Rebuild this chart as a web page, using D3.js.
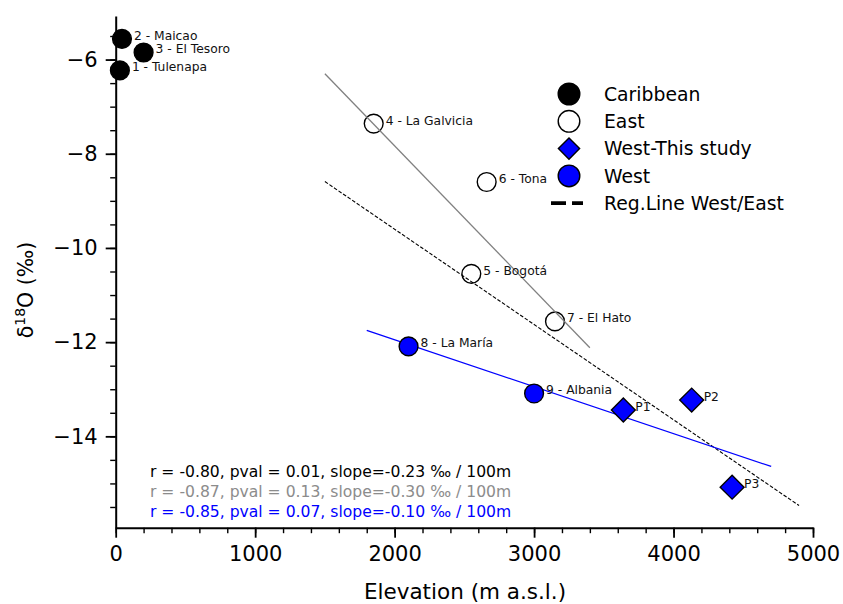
<!DOCTYPE html>
<html>
<head>
<meta charset="utf-8">
<script src="https://cdn.jsdelivr.net/npm/d3@7"></script>
<style>
  body { margin: 0; background: #fff; }
  svg { font-family: 'DejaVu Sans', sans-serif; }
</style>
</head>
<body>
<svg width="843" height="604"></svg>
<script>
// station data: elevation (m) and d18O (permil)
var caribbeanNames = ['1 - Tulenapa', '2 - Maicao', '3 - El Tesoro'];
var caribbeanElev = [30, 45, 200];
var caribbeanD18O = [-6.23, -5.56, -5.85];

var eastNames = ['4 - La Galvicia', '5 - Bogotá', '6 - Tona', '7 - El Hato'];
var eastElev = [1850, 2550, 2660, 3150];
var eastD18O = [-7.36, -10.55, -8.60, -11.56];

var westNames = ['8 - La María', '9 - Albania'];
var westElev = [2100, 3000];
var westD18O = [-12.09, -13.09];

var studyNames = ['P1', 'P2', 'P3'];
var studyElev = [3640, 4130, 4420];
var studyD18O = [-13.44, -13.23, -15.08];

// regression line end points [x0, x1], [y0, y1]
var eastLineElev = [1500, 3400];
var eastLineD18O = [-6.30, -12.12];
var allLineElev = [1500, 4900];
var allLineD18O = [-8.59, -15.47];
var westLineElev = [1800, 4700];
var westLineD18O = [-11.75, -14.64];

var xTicks = [0, 1000, 2000, 3000, 4000, 5000];
var yTicks = [-14, -12, -10, -8, -6];

var statLines = [
    'r = -0.80, pval = 0.01, slope=-0.23 ‰ / 100m',
    'r = -0.87, pval = 0.13, slope=-0.30 ‰ / 100m',
    'r = -0.85, pval = 0.07, slope=-0.10 ‰ / 100m'
];
var statColors = ['#000000', '#8c8c8c', '#0000ff'];

var legendLabels = ['Caribbean', 'East', 'West-This study', 'West', 'Reg.Line West/East'];

var svg = d3.select('svg');

var xScale = d3.scaleLinear().domain([0, 5000]).range([115.7, 813]);
var yScale = d3.scaleLinear().domain([-15.94, -5.075]).range([527.7, 16]);

function zipPoints(names, xs, ys) {
    return names.map((n, i) => ({name: n, x: xs[i], y: ys[i]}));
}

// axes
var minorX = d3.range(0, 5001, 200);
var minorY = d3.range(-15.5, -5.2, 0.5);

var xAxisG = svg.append('g').attr('transform', 'translate(0,527.7)');
xAxisG.append('g')
    .call(d3.axisBottom(xScale).tickValues(minorX).tickSize(5.5).tickSizeOuter(0).tickFormat(''))
    .call(g => g.select('.domain').remove())
    .selectAll('line').attr('stroke-width', 1.4);
xAxisG.append('g')
    .call(d3.axisBottom(xScale).tickValues(xTicks).tickSize(10).tickSizeOuter(0).tickFormat(d3.format('d')))
    .call(g => g.select('.domain').attr('stroke-width', 2))
    .call(g => g.selectAll('line').attr('stroke-width', 1.8))
    .call(g => g.selectAll('text').attr('font-size', 21).attr('font-family', 'DejaVu Sans').attr('dy', '0.98em').attr('fill', '#000'));

var yAxisG = svg.append('g').attr('transform', 'translate(115.7,0)');
yAxisG.append('g')
    .call(d3.axisLeft(yScale).tickValues(minorY).tickSize(5.5).tickSizeOuter(0).tickFormat(''))
    .call(g => g.select('.domain').remove())
    .selectAll('line').attr('stroke-width', 1.4);
yAxisG.append('g')
    .call(d3.axisLeft(yScale).tickValues(yTicks).tickSize(10).tickSizeOuter(0))
    .call(g => g.select('.domain').attr('stroke-width', 2))
    .call(g => g.selectAll('line').attr('stroke-width', 1.8))
    .call(g => g.selectAll('text').attr('font-size', 21).attr('font-family', 'DejaVu Sans').attr('x', -18).attr('fill', '#000'));

// axis titles
svg.append('text')
    .attr('x', 465).attr('y', 599)
    .attr('text-anchor', 'middle')
    .attr('font-size', 21.5)
    .text('Elevation (m a.s.l.)');

var yLabel = svg.append('text')
    .attr('transform', 'translate(33,290) rotate(-90)')
    .attr('text-anchor', 'middle')
    .attr('font-size', 20.5);
yLabel.append('tspan').text('δ');
yLabel.append('tspan').attr('font-size', 14).attr('dy', -8).text('18');
yLabel.append('tspan').attr('dy', 8).text('O (‰)');

var plotG = svg.append('g');

// East points first so the gray/dashed lines show through them
var eastData = zipPoints(eastNames, eastElev, eastD18O);
plotG.selectAll('.east')
    .data(eastData)
    .enter().append('circle')
    .attr('class', 'east')
    .attr('cx', d => xScale(d.x))
    .attr('cy', d => yScale(d.y))
    .attr('r', 9.4)
    .attr('fill', '#fff')
    .attr('stroke', '#000')
    .attr('stroke-width', 1.4);

function drawLine(xs, ys, color, width, dash) {
    plotG.append('line')
        .attr('x1', xScale(xs[0])).attr('y1', yScale(ys[0]))
        .attr('x2', xScale(xs[1])).attr('y2', yScale(ys[1]))
        .attr('stroke', color)
        .attr('stroke-width', width)
        .attr('stroke-dasharray', dash);
}
drawLine(eastLineElev, eastLineD18O, '#808080', 1.3, null);
drawLine(allLineElev, allLineD18O, '#000', 1.1, '3.7,1.8');
drawLine(westLineElev, westLineD18O, '#0000ff', 1.3, null);

var westData = zipPoints(westNames, westElev, westD18O);
plotG.selectAll('.west')
    .data(westData)
    .enter().append('circle')
    .attr('class', 'west')
    .attr('cx', d => xScale(d.x))
    .attr('cy', d => yScale(d.y))
    .attr('r', 9.4)
    .attr('fill', '#0000ff')
    .attr('stroke', '#000')
    .attr('stroke-width', 1.4);

var diamond = d3.symbol().type(d3.symbolSquare).size(285);
var studyData = zipPoints(studyNames, studyElev, studyD18O);
plotG.selectAll('.study')
    .data(studyData)
    .enter().append('path')
    .attr('class', 'study')
    .attr('d', diamond)
    .attr('transform', d => `translate(${xScale(d.x)},${yScale(d.y)}) rotate(45)`)
    .attr('fill', '#0000ff')
    .attr('stroke', '#000')
    .attr('stroke-width', 1.4);

var caribData = zipPoints(caribbeanNames, caribbeanElev, caribbeanD18O);
plotG.selectAll('.carib')
    .data(caribData)
    .enter().append('circle')
    .attr('class', 'carib')
    .attr('cx', d => xScale(d.x))
    .attr('cy', d => yScale(d.y))
    .attr('r', 9.4)
    .attr('fill', '#000')
    .attr('stroke', '#000')
    .attr('stroke-width', 1.4);

// point labels
var allPoints = caribData.concat(eastData, westData, studyData);
plotG.selectAll('.plabel')
    .data(allPoints)
    .enter().append('text')
    .attr('class', 'plabel')
    .attr('x', d => xScale(d.x) + 12)
    .attr('y', d => yScale(d.y) + 1)
    .attr('font-size', 12.3)
    .attr('fill', '#111')
    .text(d => d.name);

// stats text
svg.selectAll('.stat')
    .data(statLines)
    .enter().append('text')
    .attr('class', 'stat')
    .attr('x', 150)
    .attr('y', (d, i) => 476.5 + i * 20)
    .attr('font-size', 15.6)
    .attr('fill', (d, i) => statColors[i])
    .text(d => d);

// legend
var legendG = svg.append('g').attr('transform', 'translate(569,94)');
var rowGap = 27.3;
legendG.append('circle').attr('cy', 0).attr('r', 10.8)
    .attr('fill', '#000').attr('stroke', '#000').attr('stroke-width', 1.4);
legendG.append('circle').attr('cy', rowGap).attr('r', 10.8)
    .attr('fill', '#fff').attr('stroke', '#000').attr('stroke-width', 1.4);
legendG.append('path').attr('d', d3.symbol().type(d3.symbolSquare).size(225))
    .attr('transform', `translate(0,${rowGap * 2}) rotate(45)`)
    .attr('fill', '#0000ff').attr('stroke', '#000').attr('stroke-width', 1.4);
legendG.append('circle').attr('cy', rowGap * 3).attr('r', 10.8)
    .attr('fill', '#0000ff').attr('stroke', '#000').attr('stroke-width', 1.4);
legendG.append('line')
    .attr('x1', -18).attr('x2', 14)
    .attr('y1', rowGap * 4).attr('y2', rowGap * 4)
    .attr('stroke', '#000').attr('stroke-width', 3.8)
    .attr('stroke-dasharray', '15,6');

legendG.selectAll('.ltext')
    .data(legendLabels)
    .enter().append('text')
    .attr('class', 'ltext')
    .attr('x', 35)
    .attr('y', (d, i) => i * rowGap + 6.8)
    .attr('font-size', 18.8)
    .attr('fill', '#000')
    .text(d => d);
</script>
</body>
</html>
